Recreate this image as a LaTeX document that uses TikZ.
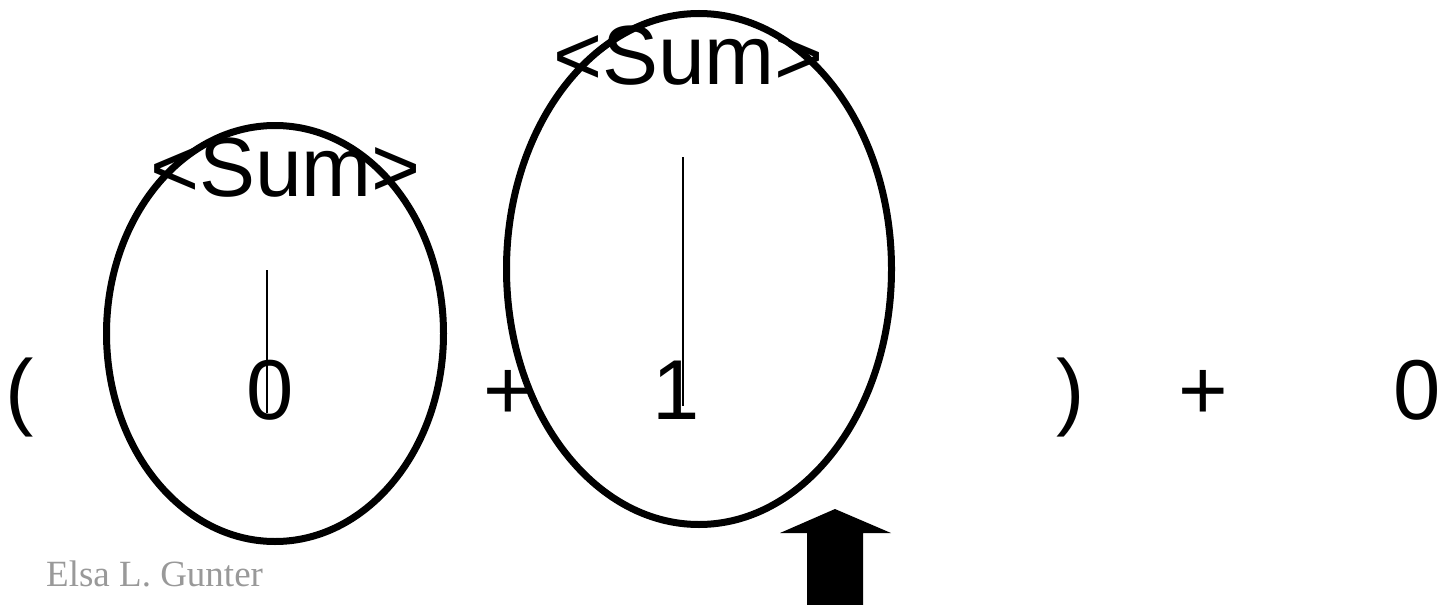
\documentclass[tikz,border=0pt]{standalone}
\usepackage{fontspec}
\setmainfont{Liberation Sans}
\newfontfamily\authorserif{Liberation Serif}
\usetikzlibrary{shapes.geometric}
\definecolor{authorgray}{RGB}{153,153,153}
\begin{document}
\begin{tikzpicture}[x=1pt,y=-1pt,
  big/.style={font=\fontsize{85}{100}\selectfont, inner sep=0pt, outer sep=0pt, anchor=base},
  tag/.style={font=\fontsize{84}{100}\selectfont, inner sep=0pt, outer sep=0pt, anchor=base},
  oval/.style={draw, ellipse, line width=7pt, inner sep=0pt},
  stem/.style={line width=1.6pt},
  author/.style={font=\authorserif\fontsize{37}{40}\selectfont, text=authorgray, anchor=base west, inner sep=0pt}
]
\useasboundingbox (0,0) rectangle (1443,605);

% ovals
\node[oval, minimum width=337pt, minimum height=416pt] (e1) at (275,333.5) {};
\node[oval, minimum width=385pt, minimum height=511pt] (e2) at (699,269) {};

% expression
\node[big] (lp) at (20,419) {(};
\node[big] (z1) at (270,419) {0};
\node[big] (p1) at (508,419) {+};
\node[big] (one) at (676,419) {1};
\node[big] (rp) at (1071,419) {)};
\node[big] (p2) at (1203,419) {+};
\node[big] (z2) at (1417,419) {0};

% tags
\node[tag] (s1) at (285.5,196) {<Sum>};
\node[tag] (s2) at (688.5,84) {<Sum>};

% stems
\coordinate (t1) at (267,270);
\coordinate (b1) at (267,413);
\coordinate (t2) at (683,157);
\coordinate (b2) at (683,406);
\draw[stem] (t1) -- (b1);
\draw[stem] (t2) -- (b2);

% block arrow
\fill (835,509) -- (891,533) -- (863,533) -- (863,605) -- (807,605) -- (807,533) -- (780,533) -- cycle;

% author
\node[author] (auth) at (46,586) {Elsa L. Gunter};
\end{tikzpicture}
\end{document}
